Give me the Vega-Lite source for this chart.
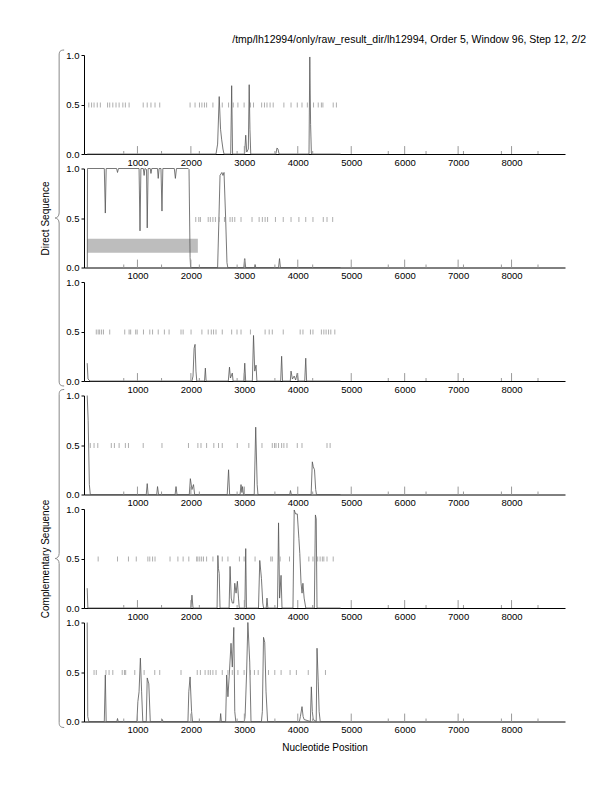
{
"$schema":"https://vega.github.io/schema/vega-lite/v6.json",
"padding":{"left":40,"top":34,"right":10,"bottom":10},
"title":{"text":"/tmp/lh12994/only/raw_result_dir/lh12994, Order 5, Window 96, Step 12, 2/2","anchor":"end","fontSize":10.5,"fontWeight":"normal","color":"#000","offset":3,"dx":21},
"config":{"view":{"stroke":null},"font":"Liberation Sans"},
"bounds":"flush",
"spacing":14.5,
"datasets":{
"curve":[
{"p":1,"x":60,"y":0},{"p":1,"x":2470,"y":0},{"p":1,"x":2500,"y":0.1},{"p":1,"x":2530,"y":0.58},{"p":1,"x":2555,"y":0.25},{"p":1,"x":2575,"y":0.15},{"p":1,"x":2600,"y":0.05},{"p":1,"x":2620,"y":0},{"p":1,"x":2745,"y":0},{"p":1,"x":2763,"y":0.69},{"p":1,"x":2780,"y":0},{"p":1,"x":3005,"y":0},{"p":1,"x":3026,"y":0.19},{"p":1,"x":3045,"y":0.02},{"p":1,"x":3075,"y":0.05},{"p":1,"x":3091,"y":0.7},{"p":1,"x":3105,"y":0.25},{"p":1,"x":3120,"y":0},{"p":1,"x":3590,"y":0},{"p":1,"x":3610,"y":0.06},{"p":1,"x":3630,"y":0.05},{"p":1,"x":3650,"y":0},{"p":1,"x":4210,"y":0},{"p":1,"x":4225,"y":0.98},{"p":1,"x":4240,"y":0.3},{"p":1,"x":4255,"y":0},{"p":1,"x":4800,"y":0},
{"p":2,"x":62,"y":0},{"p":2,"x":66,"y":1},{"p":2,"x":380,"y":1},{"p":2,"x":399,"y":0.55},{"p":2,"x":415,"y":1},{"p":2,"x":610,"y":1},{"p":2,"x":627,"y":0.96},{"p":2,"x":645,"y":1},{"p":2,"x":1030,"y":1},{"p":2,"x":1048,"y":0.37},{"p":2,"x":1065,"y":1},{"p":2,"x":1110,"y":1},{"p":2,"x":1125,"y":0.93},{"p":2,"x":1140,"y":1},{"p":2,"x":1170,"y":0.99},{"p":2,"x":1183,"y":0.4},{"p":2,"x":1200,"y":1},{"p":2,"x":1240,"y":1},{"p":2,"x":1253,"y":0.95},{"p":2,"x":1268,"y":1},{"p":2,"x":1375,"y":1},{"p":2,"x":1389,"y":0.9},{"p":2,"x":1405,"y":1},{"p":2,"x":1440,"y":1},{"p":2,"x":1459,"y":0.57},{"p":2,"x":1475,"y":1},{"p":2,"x":1690,"y":1},{"p":2,"x":1710,"y":0.9},{"p":2,"x":1730,"y":1},{"p":2,"x":1950,"y":1},{"p":2,"x":1965,"y":0.99},{"p":2,"x":1985,"y":0.1},{"p":2,"x":1995,"y":0},{"p":2,"x":2500,"y":0},{"p":2,"x":2525,"y":0.5},{"p":2,"x":2545,"y":0.93},{"p":2,"x":2580,"y":0.96},{"p":2,"x":2600,"y":0.93},{"p":2,"x":2620,"y":0.96},{"p":2,"x":2650,"y":0.5},{"p":2,"x":2675,"y":0.05},{"p":2,"x":2690,"y":0},{"p":2,"x":2990,"y":0},{"p":2,"x":3008,"y":0.09},{"p":2,"x":3025,"y":0},{"p":2,"x":3190,"y":0},{"p":2,"x":3201,"y":0.03},{"p":2,"x":3215,"y":0},{"p":2,"x":3640,"y":0},{"p":2,"x":3658,"y":0.09},{"p":2,"x":3675,"y":0},{"p":2,"x":4800,"y":0},
{"p":3,"x":60,"y":0.18},{"p":3,"x":75,"y":0.02},{"p":3,"x":95,"y":0.01},{"p":3,"x":110,"y":0},{"p":3,"x":2020,"y":0},{"p":3,"x":2040,"y":0.05},{"p":3,"x":2060,"y":0.33},{"p":3,"x":2078,"y":0.37},{"p":3,"x":2095,"y":0.1},{"p":3,"x":2110,"y":0},{"p":3,"x":2255,"y":0},{"p":3,"x":2271,"y":0.13},{"p":3,"x":2285,"y":0},{"p":3,"x":2700,"y":0},{"p":3,"x":2722,"y":0.14},{"p":3,"x":2740,"y":0.03},{"p":3,"x":2775,"y":0.08},{"p":3,"x":2790,"y":0},{"p":3,"x":2990,"y":0},{"p":3,"x":3008,"y":0.18},{"p":3,"x":3025,"y":0},{"p":3,"x":3150,"y":0},{"p":3,"x":3172,"y":0.46},{"p":3,"x":3195,"y":0.1},{"p":3,"x":3219,"y":0.16},{"p":3,"x":3235,"y":0},{"p":3,"x":3680,"y":0},{"p":3,"x":3698,"y":0.25},{"p":3,"x":3715,"y":0},{"p":3,"x":3860,"y":0},{"p":3,"x":3874,"y":0.1},{"p":3,"x":3900,"y":0.02},{"p":3,"x":3933,"y":0.05},{"p":3,"x":3960,"y":0.01},{"p":3,"x":3991,"y":0.08},{"p":3,"x":4010,"y":0},{"p":3,"x":4130,"y":0},{"p":3,"x":4149,"y":0.23},{"p":3,"x":4165,"y":0},{"p":3,"x":4800,"y":0},
{"p":4,"x":60,"y":1},{"p":4,"x":78,"y":0.75},{"p":4,"x":100,"y":0.1},{"p":4,"x":118,"y":0},{"p":4,"x":1165,"y":0},{"p":4,"x":1183,"y":0.11},{"p":4,"x":1200,"y":0},{"p":4,"x":1360,"y":0},{"p":4,"x":1376,"y":0.08},{"p":4,"x":1395,"y":0},{"p":4,"x":1705,"y":0},{"p":4,"x":1722,"y":0.08},{"p":4,"x":1740,"y":0},{"p":4,"x":1970,"y":0},{"p":4,"x":1990,"y":0.16},{"p":4,"x":2020,"y":0.05},{"p":4,"x":2049,"y":0.1},{"p":4,"x":2070,"y":0},{"p":4,"x":2680,"y":0},{"p":4,"x":2705,"y":0.25},{"p":4,"x":2725,"y":0},{"p":4,"x":2920,"y":0},{"p":4,"x":2938,"y":0.1},{"p":4,"x":2955,"y":0.02},{"p":4,"x":2968,"y":0.08},{"p":4,"x":2985,"y":0},{"p":4,"x":3185,"y":0},{"p":4,"x":3213,"y":0.68},{"p":4,"x":3240,"y":0.1},{"p":4,"x":3255,"y":0},{"p":4,"x":3850,"y":0},{"p":4,"x":3863,"y":0.04},{"p":4,"x":3880,"y":0},{"p":4,"x":4250,"y":0},{"p":4,"x":4272,"y":0.33},{"p":4,"x":4290,"y":0.28},{"p":4,"x":4313,"y":0.25},{"p":4,"x":4335,"y":0.05},{"p":4,"x":4350,"y":0},{"p":4,"x":4800,"y":0},
{"p":5,"x":60,"y":0.2},{"p":5,"x":72,"y":0},{"p":5,"x":2000,"y":0},{"p":5,"x":2020,"y":0.13},{"p":5,"x":2040,"y":0},{"p":5,"x":2490,"y":0},{"p":5,"x":2505,"y":0.53},{"p":5,"x":2515,"y":0.4},{"p":5,"x":2530,"y":0.35},{"p":5,"x":2545,"y":0},{"p":5,"x":2715,"y":0},{"p":5,"x":2733,"y":0.42},{"p":5,"x":2755,"y":0.1},{"p":5,"x":2775,"y":0.05},{"p":5,"x":2800,"y":0.05},{"p":5,"x":2821,"y":0.25},{"p":5,"x":2845,"y":0.15},{"p":5,"x":2870,"y":0.27},{"p":5,"x":2891,"y":0.1},{"p":5,"x":2905,"y":0},{"p":5,"x":3010,"y":0},{"p":5,"x":3026,"y":0.6},{"p":5,"x":3040,"y":0},{"p":5,"x":3265,"y":0},{"p":5,"x":3289,"y":0.48},{"p":5,"x":3320,"y":0.3},{"p":5,"x":3345,"y":0.05},{"p":5,"x":3360,"y":0},{"p":5,"x":3410,"y":0},{"p":5,"x":3424,"y":0.1},{"p":5,"x":3440,"y":0},{"p":5,"x":3620,"y":0},{"p":5,"x":3640,"y":0.86},{"p":5,"x":3660,"y":0.1},{"p":5,"x":3687,"y":0.33},{"p":5,"x":3705,"y":0},{"p":5,"x":3910,"y":0},{"p":5,"x":3933,"y":0.99},{"p":5,"x":3960,"y":0.95},{"p":5,"x":3991,"y":0.95},{"p":5,"x":4021,"y":0.7},{"p":5,"x":4038,"y":0.55},{"p":5,"x":4061,"y":0.25},{"p":5,"x":4080,"y":0.15},{"p":5,"x":4096,"y":0.25},{"p":5,"x":4119,"y":0.1},{"p":5,"x":4150,"y":0},{"p":5,"x":4310,"y":0},{"p":5,"x":4330,"y":0.94},{"p":5,"x":4345,"y":0.9},{"p":5,"x":4360,"y":0},{"p":5,"x":4800,"y":0},
{"p":6,"x":60,"y":1},{"p":6,"x":70,"y":0.05},{"p":6,"x":90,"y":0},{"p":6,"x":380,"y":0},{"p":6,"x":399,"y":0.47},{"p":6,"x":415,"y":0},{"p":6,"x":615,"y":0},{"p":6,"x":627,"y":0.03},{"p":6,"x":640,"y":0},{"p":6,"x":990,"y":0},{"p":6,"x":1008,"y":0.2},{"p":6,"x":1030,"y":0.3},{"p":6,"x":1055,"y":0.64},{"p":6,"x":1078,"y":0.3},{"p":6,"x":1100,"y":0},{"p":6,"x":1165,"y":0},{"p":6,"x":1183,"y":0.44},{"p":6,"x":1213,"y":0.38},{"p":6,"x":1240,"y":0},{"p":6,"x":1450,"y":0},{"p":6,"x":1464,"y":0.02},{"p":6,"x":1480,"y":0},{"p":6,"x":1945,"y":0},{"p":6,"x":1961,"y":0.3},{"p":6,"x":1985,"y":0.45},{"p":6,"x":2013,"y":0.1},{"p":6,"x":2030,"y":0},{"p":6,"x":2545,"y":0},{"p":6,"x":2557,"y":0.08},{"p":6,"x":2570,"y":0},{"p":6,"x":2650,"y":0},{"p":6,"x":2670,"y":0.47},{"p":6,"x":2693,"y":0.25},{"p":6,"x":2716,"y":0.45},{"p":6,"x":2751,"y":0.79},{"p":6,"x":2775,"y":0.55},{"p":6,"x":2803,"y":0.95},{"p":6,"x":2821,"y":0.1},{"p":6,"x":2840,"y":0},{"p":6,"x":3000,"y":0},{"p":6,"x":3014,"y":0.05},{"p":6,"x":3043,"y":0.5},{"p":6,"x":3066,"y":1},{"p":6,"x":3101,"y":0.6},{"p":6,"x":3125,"y":0},{"p":6,"x":3320,"y":0},{"p":6,"x":3337,"y":0.1},{"p":6,"x":3359,"y":0.85},{"p":6,"x":3382,"y":0.8},{"p":6,"x":3406,"y":0.3},{"p":6,"x":3435,"y":0},{"p":6,"x":4030,"y":0},{"p":6,"x":4049,"y":0.05},{"p":6,"x":4079,"y":0.15},{"p":6,"x":4100,"y":0.05},{"p":6,"x":4119,"y":0.02},{"p":6,"x":4235,"y":0},{"p":6,"x":4254,"y":0.35},{"p":6,"x":4272,"y":0.1},{"p":6,"x":4290,"y":0.02},{"p":6,"x":4345,"y":0},{"p":6,"x":4360,"y":0.74},{"p":6,"x":4383,"y":0.4},{"p":6,"x":4400,"y":0.1},{"p":6,"x":4420,"y":0},{"p":6,"x":4800,"y":0}
],
"stops":[
{"p":1,"x":90},{"p":1,"x":142},{"p":1,"x":188},{"p":1,"x":248},{"p":1,"x":306},{"p":1,"x":441},{"p":1,"x":481},{"p":1,"x":539},{"p":1,"x":599},{"p":1,"x":657},{"p":1,"x":727},{"p":1,"x":774},{"p":1,"x":844},{"p":1,"x":1108},{"p":1,"x":1183},{"p":1,"x":1253},{"p":1,"x":1329},{"p":1,"x":1417},{"p":1,"x":1985},{"p":1,"x":2078},{"p":1,"x":2161},{"p":1,"x":2206},{"p":1,"x":2254},{"p":1,"x":2294},{"p":1,"x":2412},{"p":1,"x":2587},{"p":1,"x":2705},{"p":1,"x":2793},{"p":1,"x":2880},{"p":1,"x":2996},{"p":1,"x":3114},{"p":1,"x":3172},{"p":1,"x":3324},{"p":1,"x":3377},{"p":1,"x":3424},{"p":1,"x":3482},{"p":1,"x":3540},{"p":1,"x":3740},{"p":1,"x":3874},{"p":1,"x":3991},{"p":1,"x":4079},{"p":1,"x":4179},{"p":1,"x":4295},{"p":1,"x":4383},{"p":1,"x":4442},{"p":1,"x":4470},{"p":1,"x":4663},{"p":1,"x":4723},
{"p":2,"x":2091},{"p":2,"x":2148},{"p":2,"x":2178},{"p":2,"x":2324},{"p":2,"x":2364},{"p":2,"x":2412},{"p":2,"x":2459},{"p":2,"x":2529},{"p":2,"x":2628},{"p":2,"x":2733},{"p":2,"x":2775},{"p":2,"x":2821},{"p":2,"x":2938},{"p":2,"x":3144},{"p":2,"x":3277},{"p":2,"x":3337},{"p":2,"x":3389},{"p":2,"x":3435},{"p":2,"x":3582},{"p":2,"x":3728},{"p":2,"x":3874},{"p":2,"x":4021},{"p":2,"x":4149},{"p":2,"x":4284},{"p":2,"x":4477},{"p":2,"x":4547},{"p":2,"x":4653},
{"p":3,"x":230},{"p":3,"x":265},{"p":3,"x":293},{"p":3,"x":329},{"p":3,"x":364},{"p":3,"x":481},{"p":3,"x":762},{"p":3,"x":844},{"p":3,"x":873},{"p":3,"x":967},{"p":3,"x":995},{"p":3,"x":1113},{"p":3,"x":1231},{"p":3,"x":1283},{"p":3,"x":1389},{"p":3,"x":1504},{"p":3,"x":1592},{"p":3,"x":1815},{"p":3,"x":1855},{"p":3,"x":2003},{"p":3,"x":2206},{"p":3,"x":2324},{"p":3,"x":2382},{"p":3,"x":2424},{"p":3,"x":2470},{"p":3,"x":2587},{"p":3,"x":2763},{"p":3,"x":2863},{"p":3,"x":2938},{"p":3,"x":3114},{"p":3,"x":3389},{"p":3,"x":3465},{"p":3,"x":3523},{"p":3,"x":3728},{"p":3,"x":4045},{"p":3,"x":4097},{"p":3,"x":4237},{"p":3,"x":4284},{"p":3,"x":4442},{"p":3,"x":4488},{"p":3,"x":4530},{"p":3,"x":4576},{"p":3,"x":4618},{"p":3,"x":4693},
{"p":4,"x":118},{"p":4,"x":188},{"p":4,"x":258},{"p":4,"x":511},{"p":4,"x":569},{"p":4,"x":657},{"p":4,"x":774},{"p":4,"x":832},{"p":4,"x":1108},{"p":4,"x":1459},{"p":4,"x":1955},{"p":4,"x":2131},{"p":4,"x":2189},{"p":4,"x":2294},{"p":4,"x":2429},{"p":4,"x":2517},{"p":4,"x":2587},{"p":4,"x":2868},{"p":4,"x":3084},{"p":4,"x":3330},{"p":4,"x":3523},{"p":4,"x":3565},{"p":4,"x":3593},{"p":4,"x":3640},{"p":4,"x":3698},{"p":4,"x":3740},{"p":4,"x":3798},{"p":4,"x":3991},{"p":4,"x":4079},{"p":4,"x":4547},{"p":4,"x":4605},
{"p":5,"x":265},{"p":5,"x":627},{"p":5,"x":832},{"p":5,"x":978},{"p":5,"x":1195},{"p":5,"x":1231},{"p":5,"x":1283},{"p":5,"x":1329},{"p":5,"x":1610},{"p":5,"x":1757},{"p":5,"x":1855},{"p":5,"x":1961},{"p":5,"x":2108},{"p":5,"x":2131},{"p":5,"x":2166},{"p":5,"x":2201},{"p":5,"x":2236},{"p":5,"x":2294},{"p":5,"x":2412},{"p":5,"x":2587},{"p":5,"x":2693},{"p":5,"x":2908},{"p":5,"x":2996},{"p":5,"x":3201},{"p":5,"x":3495},{"p":5,"x":3523},{"p":5,"x":3670},{"p":5,"x":3845},{"p":5,"x":4207},{"p":5,"x":4284},{"p":5,"x":4372},{"p":5,"x":4418},{"p":5,"x":4460},{"p":5,"x":4488},{"p":5,"x":4547},{"p":5,"x":4663},
{"p":6,"x":188},{"p":6,"x":230},{"p":6,"x":411},{"p":6,"x":469},{"p":6,"x":539},{"p":6,"x":715},{"p":6,"x":757},{"p":6,"x":780},{"p":6,"x":950},{"p":6,"x":1125},{"p":6,"x":1324},{"p":6,"x":1417},{"p":6,"x":1815},{"p":6,"x":2119},{"p":6,"x":2178},{"p":6,"x":2266},{"p":6,"x":2324},{"p":6,"x":2364},{"p":6,"x":2412},{"p":6,"x":2470},{"p":6,"x":2587},{"p":6,"x":2693},{"p":6,"x":2775},{"p":6,"x":2880},{"p":6,"x":2996},{"p":6,"x":3114},{"p":6,"x":3189},{"p":6,"x":3259},{"p":6,"x":3452},{"p":6,"x":3570},{"p":6,"x":3688},{"p":6,"x":3856},{"p":6,"x":3974},{"p":6,"x":4196},{"p":6,"x":4518}
],
"major":[{"x":1000},{"x":2000},{"x":3000},{"x":4000},{"x":5000},{"x":6000},{"x":7000},{"x":8000}],
"minor":[{"x":744},{"x":1451},{"x":2158},{"x":2865},{"x":3572},{"x":4279},{"x":5693},{"x":6400},{"x":7100},{"x":7810},{"x":8495}],
"gene":[{"x1":64,"x2":2130,"y1":0.15,"y2":0.29}]
},
"vconcat":[
{"width":481,"height":99,"layer":[
{"data":{"name":"curve"},"transform":[{"filter":"datum.p==1"}],"mark":{"type":"line","stroke":"#555","strokeWidth":0.8},"encoding":{"x":{"field":"x","type":"quantitative","scale":{"domain":[60,8500]},"axis":{"values":[1000,2000,3000,4000,5000,6000,7000,8000],"format":"d","ticks":false,"grid":false,"title":null,"labelFontSize":9.5,"labelPadding":3,"domainColor":"#000","labelColor":"#000"}},"y":{"field":"y","type":"quantitative","scale":{"domain":[0,1]},"axis":{"values":[0,0.5,1],"format":".1f","tickSize":3,"tickColor":"#000","grid":false,"title":null,"labelFontSize":9.5,"labelPadding":2,"labelFlush":false,"domainColor":"#000","labelColor":"#000"}}}},
{"data":{"name":"stops"},"transform":[{"filter":"datum.p==1"}],"mark":{"type":"rule","stroke":"#999","strokeWidth":0.8},"encoding":{"x":{"field":"x","type":"quantitative"},"y":{"datum":0.47},"y2":{"datum":0.52}}},
{"data":{"name":"major"},"mark":{"type":"rule","stroke":"#999"},"encoding":{"x":{"field":"x","type":"quantitative"},"y":{"datum":0},"y2":{"datum":0.08}}},
{"data":{"name":"minor"},"mark":{"type":"rule","stroke":"#999"},"encoding":{"x":{"field":"x","type":"quantitative"},"y":{"datum":0},"y2":{"datum":0.03}}}
]},
{"width":481,"height":99,"layer":[
{"data":{"name":"gene"},"mark":{"type":"rect","fill":"#bdbdbd"},"encoding":{"x":{"field":"x1","type":"quantitative","scale":{"domain":[60,8500]},"axis":{"values":[1000,2000,3000,4000,5000,6000,7000,8000],"format":"d","ticks":false,"grid":false,"title":null,"labelFontSize":9.5,"labelPadding":3,"domainColor":"#000","labelColor":"#000"}},"x2":{"field":"x2"},"y":{"field":"y1","type":"quantitative","scale":{"domain":[0,1]},"axis":{"values":[0,0.5,1],"format":".1f","tickSize":3,"tickColor":"#000","grid":false,"title":"Direct Sequence","titleFontSize":10,"titleFontWeight":"normal","titleColor":"#000","titlePadding":15,"labelFontSize":9.5,"labelPadding":2,"labelFlush":false,"domainColor":"#000","labelColor":"#000"}},"y2":{"field":"y2"}}},
{"data":{"name":"curve"},"transform":[{"filter":"datum.p==2"}],"mark":{"type":"line","stroke":"#555","strokeWidth":0.8},"encoding":{"x":{"field":"x","type":"quantitative"},"y":{"field":"y","type":"quantitative"}}},
{"data":{"name":"stops"},"transform":[{"filter":"datum.p==2"}],"mark":{"type":"rule","stroke":"#999","strokeWidth":0.8},"encoding":{"x":{"field":"x","type":"quantitative"},"y":{"datum":0.46},"y2":{"datum":0.51}}},
{"data":{"name":"major"},"mark":{"type":"rule","stroke":"#999"},"encoding":{"x":{"field":"x","type":"quantitative"},"y":{"datum":0},"y2":{"datum":0.08}}},
{"data":{"name":"minor"},"mark":{"type":"rule","stroke":"#999"},"encoding":{"x":{"field":"x","type":"quantitative"},"y":{"datum":0},"y2":{"datum":0.03}}},
{"data":{"values":[{}]},"mark":{"type":"point","shape":"M0.0536,-1C0.03,-1 0.0238,-0.99 0.0238,-0.97L0.0238,-0.03C0.0238,-0.01 0.01,0 0,0C0.01,0 0.0238,0.01 0.0238,0.03L0.0238,0.97C0.0238,0.99 0.03,1 0.0536,1","size":112896,"filled":false,"stroke":"#888","strokeWidth":1,"opacity":1},"encoding":{"x":{"datum":-540},"y":{"datum":0.5}}}
]},
{"width":481,"height":99,"layer":[
{"data":{"name":"curve"},"transform":[{"filter":"datum.p==3"}],"mark":{"type":"line","stroke":"#555","strokeWidth":0.8},"encoding":{"x":{"field":"x","type":"quantitative","scale":{"domain":[60,8500]},"axis":{"values":[1000,2000,3000,4000,5000,6000,7000,8000],"format":"d","ticks":false,"grid":false,"title":null,"labelFontSize":9.5,"labelPadding":3,"domainColor":"#000","labelColor":"#000"}},"y":{"field":"y","type":"quantitative","scale":{"domain":[0,1]},"axis":{"values":[0,0.5,1],"format":".1f","tickSize":3,"tickColor":"#000","grid":false,"title":null,"labelFontSize":9.5,"labelPadding":2,"labelFlush":false,"domainColor":"#000","labelColor":"#000"}}}},
{"data":{"name":"stops"},"transform":[{"filter":"datum.p==3"}],"mark":{"type":"rule","stroke":"#999","strokeWidth":0.8},"encoding":{"x":{"field":"x","type":"quantitative"},"y":{"datum":0.47},"y2":{"datum":0.52}}},
{"data":{"name":"major"},"mark":{"type":"rule","stroke":"#999"},"encoding":{"x":{"field":"x","type":"quantitative"},"y":{"datum":0},"y2":{"datum":0.08}}},
{"data":{"name":"minor"},"mark":{"type":"rule","stroke":"#999"},"encoding":{"x":{"field":"x","type":"quantitative"},"y":{"datum":0},"y2":{"datum":0.03}}}
]},
{"width":481,"height":99,"layer":[
{"data":{"name":"curve"},"transform":[{"filter":"datum.p==4"}],"mark":{"type":"line","stroke":"#555","strokeWidth":0.8},"encoding":{"x":{"field":"x","type":"quantitative","scale":{"domain":[60,8500]},"axis":{"values":[1000,2000,3000,4000,5000,6000,7000,8000],"format":"d","ticks":false,"grid":false,"title":null,"labelFontSize":9.5,"labelPadding":3,"domainColor":"#000","labelColor":"#000"}},"y":{"field":"y","type":"quantitative","scale":{"domain":[0,1]},"axis":{"values":[0,0.5,1],"format":".1f","tickSize":3,"tickColor":"#000","grid":false,"title":null,"labelFontSize":9.5,"labelPadding":2,"labelFlush":false,"domainColor":"#000","labelColor":"#000"}}}},
{"data":{"name":"stops"},"transform":[{"filter":"datum.p==4"}],"mark":{"type":"rule","stroke":"#999","strokeWidth":0.8},"encoding":{"x":{"field":"x","type":"quantitative"},"y":{"datum":0.47},"y2":{"datum":0.52}}},
{"data":{"name":"major"},"mark":{"type":"rule","stroke":"#999"},"encoding":{"x":{"field":"x","type":"quantitative"},"y":{"datum":0},"y2":{"datum":0.08}}},
{"data":{"name":"minor"},"mark":{"type":"rule","stroke":"#999"},"encoding":{"x":{"field":"x","type":"quantitative"},"y":{"datum":0},"y2":{"datum":0.03}}}
]},
{"width":481,"height":99,"layer":[
{"data":{"name":"curve"},"transform":[{"filter":"datum.p==5"}],"mark":{"type":"line","stroke":"#555","strokeWidth":0.8},"encoding":{"x":{"field":"x","type":"quantitative","scale":{"domain":[60,8500]},"axis":{"values":[1000,2000,3000,4000,5000,6000,7000,8000],"format":"d","ticks":false,"grid":false,"title":null,"labelFontSize":9.5,"labelPadding":3,"domainColor":"#000","labelColor":"#000"}},"y":{"field":"y","type":"quantitative","scale":{"domain":[0,1]},"axis":{"values":[0,0.5,1],"format":".1f","tickSize":3,"tickColor":"#000","grid":false,"title":"Complementary Sequence","titleFontSize":10,"titleFontWeight":"normal","titleColor":"#000","titlePadding":15,"labelFontSize":9.5,"labelPadding":2,"labelFlush":false,"domainColor":"#000","labelColor":"#000"}}}},
{"data":{"name":"stops"},"transform":[{"filter":"datum.p==5"}],"mark":{"type":"rule","stroke":"#999","strokeWidth":0.8},"encoding":{"x":{"field":"x","type":"quantitative"},"y":{"datum":0.47},"y2":{"datum":0.52}}},
{"data":{"name":"major"},"mark":{"type":"rule","stroke":"#999"},"encoding":{"x":{"field":"x","type":"quantitative"},"y":{"datum":0},"y2":{"datum":0.08}}},
{"data":{"name":"minor"},"mark":{"type":"rule","stroke":"#999"},"encoding":{"x":{"field":"x","type":"quantitative"},"y":{"datum":0},"y2":{"datum":0.03}}},
{"data":{"values":[{}]},"mark":{"type":"point","shape":"M0.0536,-1C0.03,-1 0.0238,-0.99 0.0238,-0.97L0.0238,-0.03C0.0238,-0.01 0.01,0 0,0C0.01,0 0.0238,0.01 0.0238,0.03L0.0238,0.97C0.0238,0.99 0.03,1 0.0536,1","size":114244,"filled":false,"stroke":"#888","strokeWidth":1,"opacity":1},"encoding":{"x":{"datum":-540},"y":{"datum":0.5}}}
]},
{"width":481,"height":99,"layer":[
{"data":{"name":"curve"},"transform":[{"filter":"datum.p==6"}],"mark":{"type":"line","stroke":"#555","strokeWidth":0.8},"encoding":{"x":{"field":"x","type":"quantitative","scale":{"domain":[60,8500]},"axis":{"values":[1000,2000,3000,4000,5000,6000,7000,8000],"format":"d","ticks":false,"grid":false,"title":"Nucleotide Position","titleFontSize":10,"titleFontWeight":"normal","titleColor":"#000","titlePadding":8,"labelFontSize":9.5,"labelPadding":3,"domainColor":"#000","labelColor":"#000"}},"y":{"field":"y","type":"quantitative","scale":{"domain":[0,1]},"axis":{"values":[0,0.5,1],"format":".1f","tickSize":3,"tickColor":"#000","grid":false,"title":null,"labelFontSize":9.5,"labelPadding":2,"labelFlush":false,"domainColor":"#000","labelColor":"#000"}}}},
{"data":{"name":"stops"},"transform":[{"filter":"datum.p==6"}],"mark":{"type":"rule","stroke":"#999","strokeWidth":0.8},"encoding":{"x":{"field":"x","type":"quantitative"},"y":{"datum":0.47},"y2":{"datum":0.52}}},
{"data":{"name":"major"},"mark":{"type":"rule","stroke":"#999"},"encoding":{"x":{"field":"x","type":"quantitative"},"y":{"datum":0},"y2":{"datum":0.08}}},
{"data":{"name":"minor"},"mark":{"type":"rule","stroke":"#999"},"encoding":{"x":{"field":"x","type":"quantitative"},"y":{"datum":0},"y2":{"datum":0.03}}}
]}
]
}
